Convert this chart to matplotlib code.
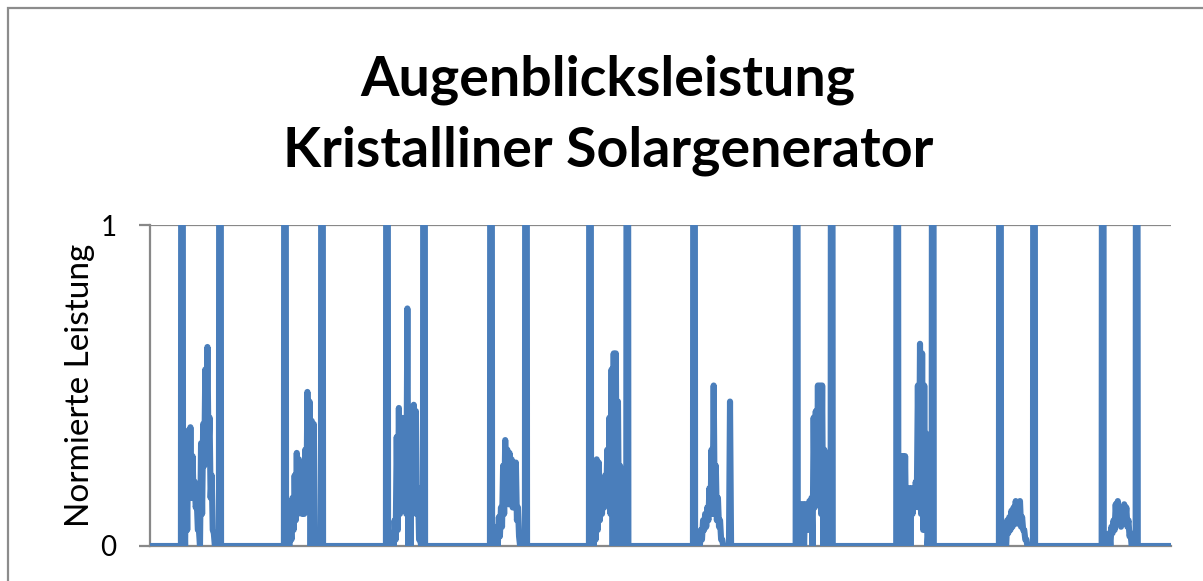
import matplotlib
matplotlib.use("Agg")
import matplotlib.pyplot as plt
from matplotlib.patches import Rectangle

# ---- data: hours of day, upper / lower envelope of the (rapidly fluctuating) normalised power ----
rise_h = [7.52, 7.73, 7.71, 8.16, 7.43, 7.88, 8.02, 7.66, 7.80, 7.95]     # sunrise artefact spikes
set_h = [16.45, 16.43, 16.41, 16.38, 16.20, 16.34, 16.24, 15.99, 15.80, 15.94]  # sunset artefacts
spike_v = 5.0
set_v = [5.0, 5.0, 5.0, 5.0, 5.0, 0.45, 5.0, 5.0, 5.0, 5.0]

day1_h = [8.0, 8.5, 9.0, 9.5, 10.0, 10.5, 11.0, 11.5, 12.0, 12.5, 13.0, 13.5, 14.0, 14.5, 15.0]
day1_hi = [0.15, 0.30, 0.36, 0.37, 0.28, 0.20, 0.14, 0.05, 0.32, 0.38, 0.55, 0.62, 0.40, 0.22, 0.04]
day1_lo = [0.0, 0.05, 0.15, 0.15, 0.15, 0.12, 0.05, 0.0, 0.10, 0.25, 0.32, 0.30, 0.15, 0.05, 0.0]

day2_h = [8.5, 9.0, 9.5, 10.0, 10.5, 11.0, 11.5, 12.0, 12.5, 13.0, 13.5, 14.0, 14.5, 15.0]
day2_hi = [0.05, 0.10, 0.15, 0.22, 0.29, 0.27, 0.18, 0.12, 0.30, 0.48, 0.45, 0.39, 0.38, 0.05]
day2_lo = [0.0, 0.02, 0.05, 0.08, 0.10, 0.12, 0.10, 0.10, 0.12, 0.15, 0.0, 0.10, 0.05, 0.0]

day3_h = [8.5, 9.0, 9.5, 10.0, 10.5, 11.0, 11.5, 12.0, 12.5, 13.0, 13.5, 14.0, 14.5, 15.0, 15.5]
day3_hi = [0.01, 0.04, 0.08, 0.34, 0.43, 0.40, 0.30, 0.40, 0.74, 0.35, 0.40, 0.44, 0.42, 0.18, 0.02]
day3_lo = [0.0, 0.0, 0.02, 0.05, 0.10, 0.15, 0.15, 0.10, 0.0, 0.0, 0.10, 0.12, 0.10, 0.02, 0.0]

day4_h = [9.0, 9.5, 10.0, 10.5, 11.0, 11.5, 12.0, 12.5, 13.0, 13.5, 14.0, 14.5, 15.0]
day4_hi = [0.02, 0.06, 0.09, 0.12, 0.25, 0.33, 0.30, 0.29, 0.27, 0.26, 0.26, 0.12, 0.0]
day4_lo = [0.0, 0.0, 0.03, 0.06, 0.10, 0.14, 0.13, 0.15, 0.12, 0.12, 0.08, 0.03, 0.0]

day5_h = [8.0, 8.5, 9.0, 9.5, 10.0, 10.5, 11.0, 11.5, 12.0, 12.5, 13.0, 13.5, 14.0, 14.5, 15.0, 15.5]
day5_hi = [0.22, 0.26, 0.27, 0.26, 0.20, 0.20, 0.22, 0.30, 0.40, 0.55, 0.60, 0.60, 0.45, 0.25, 0.08, 0.0]
day5_lo = [0.0, 0.02, 0.05, 0.08, 0.10, 0.12, 0.15, 0.15, 0.10, 0.0, 0.05, 0.0, 0.0, 0.05, 0.0, 0.0]

day6_h = [8.5, 9.0, 9.5, 10.0, 10.5, 11.0, 11.5, 12.0, 12.5, 13.0, 13.5, 14.0, 14.5]
day6_hi = [0.0, 0.04, 0.05, 0.08, 0.10, 0.12, 0.18, 0.30, 0.50, 0.25, 0.15, 0.08, 0.02]
day6_lo = [0.0, 0.0, 0.02, 0.05, 0.06, 0.08, 0.10, 0.10, 0.10, 0.08, 0.06, 0.02, 0.0]

day7_h = [8.5, 9.0, 9.5, 10.0, 10.5, 11.0, 11.5, 12.0, 12.5, 13.0, 13.5, 14.0, 14.5, 15.0]
day7_hi = [0.10, 0.13, 0.13, 0.13, 0.13, 0.14, 0.15, 0.40, 0.42, 0.50, 0.50, 0.50, 0.30, 0.0]
day7_lo = [0.0, 0.05, 0.0, 0.06, 0.05, 0.10, 0.0, 0.12, 0.15, 0.15, 0.10, 0.0, 0.0, 0.0]

day8_h = [8.0, 8.5, 9.0, 9.5, 10.0, 10.5, 11.0, 11.5, 12.0, 12.5, 13.0, 13.5, 14.0, 14.5, 15.0]
day8_hi = [0.10, 0.28, 0.28, 0.28, 0.18, 0.18, 0.18, 0.18, 0.20, 0.50, 0.63, 0.60, 0.50, 0.35, 0.05]
day8_lo = [0.0, 0.0, 0.05, 0.0, 0.05, 0.0, 0.10, 0.12, 0.15, 0.12, 0.10, 0.05, 0.05, 0.0, 0.0]

day9_h = [9.0, 9.5, 10.0, 10.5, 11.0, 11.5, 12.0, 12.5, 13.0, 13.5, 14.0, 14.5]
day9_hi = [0.0, 0.08, 0.09, 0.11, 0.12, 0.14, 0.11, 0.14, 0.09, 0.05, 0.02, 0.0]
day9_lo = [0.0, 0.04, 0.05, 0.06, 0.07, 0.07, 0.07, 0.06, 0.05, 0.02, 0.0, 0.0]

day10_h = [9.5, 10.0, 10.5, 11.0, 11.5, 12.0, 12.5, 13.0, 13.5, 14.0, 14.5, 15.0]
day10_hi = [0.04, 0.06, 0.08, 0.13, 0.14, 0.10, 0.12, 0.13, 0.12, 0.08, 0.04, 0.0]
day10_lo = [0.0, 0.04, 0.05, 0.07, 0.08, 0.06, 0.07, 0.08, 0.06, 0.03, 0.0, 0.0]

days_h = [day1_h, day2_h, day3_h, day4_h, day5_h, day6_h, day7_h, day8_h, day9_h, day10_h]
days_hi = [day1_hi, day2_hi, day3_hi, day4_hi, day5_hi, day6_hi, day7_hi, day8_hi, day9_hi, day10_hi]
days_lo = [day1_lo, day2_lo, day3_lo, day4_lo, day5_lo, day6_lo, day7_lo, day8_lo, day9_lo, day10_lo]

n_days = 10
title_lines = ["Augenblicksleistung", "Kristalliner Solargenerator"]
y_label = "Normierte Leistung"
y_ticks = [0, 1]

# ---- assemble the continuous series (hours since start) ----
t = [0.0]
v = [0.0]
for d in range(n_days):
    o = d * 24
    r, s = rise_h[d], set_h[d]
    t += [o + r - 0.25, o + r, o + r + 0.25]
    v += [0.0, spike_v, 0.0]
    for h, hi, lo in zip(days_h[d], days_hi[d], days_lo[d]):
        t += [o + h, o + h + 0.25]
        v += [hi, lo]
    t += [o + s - 0.25, o + s, o + s + 0.25]
    v += [0.0, set_v[d], 0.0]
t.append(n_days * 24.0)
v.append(0.0)

W, H = 1203, 581
fig = plt.figure(figsize=(W / 100, H / 100), dpi=100)
fig.patch.set_facecolor("white")

# outer chart frame (cut at right and bottom)
fig.add_artist(Rectangle((8 / W, -0.1), 1.2, 1 - 8 / H + 0.1, transform=fig.transFigure,
                         fill=False, edgecolor="#8c8c8c", linewidth=1.6))

ax = fig.add_axes([150 / W, 1 - 546 / H, (1171 - 150) / W, (546 - 225) / H])
ax.plot(t, v, color="#4a7ebb", linewidth=4.4, solid_joinstyle="round", solid_capstyle="round",
        zorder=3)
ax.set_xlim(0, n_days * 24)
ax.set_ylim(0, 1)
ax.set_yticks(y_ticks)
ax.set_yticklabels([str(y) for y in y_ticks], fontsize=20, family="Lato")
ax.set_xticks([])
ax.axhline(1, color="#888888", linewidth=1.6, zorder=1)
for s in ["top", "right"]:
    ax.spines[s].set_visible(False)
for s in ["left", "bottom"]:
    ax.spines[s].set_color("#888888")
    ax.spines[s].set_linewidth(1.6)
ax.tick_params(axis="y", length=8, width=1.6, color="#888888", pad=16)
ax.set_facecolor("white")

fig.text(0.5055, 1 - 95 / H, title_lines[0], ha="center", va="baseline", fontsize=40,
         fontweight="bold", family="Lato")
fig.text(0.5055, 1 - 167 / H, title_lines[1], ha="center", va="baseline", fontsize=40,
         fontweight="bold", family="Lato")
fig.text(80 / W, 1 - 385 / H, y_label, rotation=90, ha="center", va="center", fontsize=24,
         family="Lato")

fig.savefig("out.png", dpi=100, facecolor="white")
